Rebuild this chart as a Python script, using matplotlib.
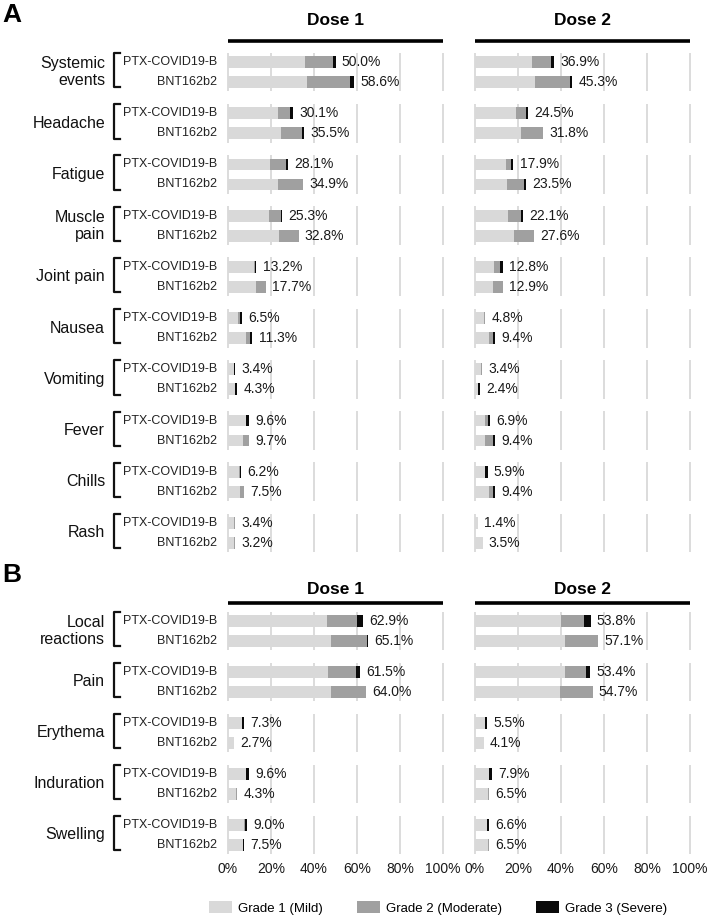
import numpy as np
import matplotlib
matplotlib.use("Agg")
import matplotlib.pyplot as plt
from matplotlib.patches import Patch
from matplotlib.lines import Line2D
import matplotlib.transforms as mtransforms

plt.rcParams['font.family'] = ['Liberation Sans', 'DejaVu Sans']

# ---- data (percent of participants) ----
sys_cats = ["Systemic\nevents", "Headache", "Fatigue", "Muscle\npain", "Joint pain",
            "Nausea", "Vomiting", "Fever", "Chills", "Rash"]
loc_cats = ["Local\nreactions", "Pain", "Erythema", "Induration", "Swelling"]
vaccines = ["PTX-COVID19-B", "BNT162b2"]
grades = ["Grade 1 (Mild)", "Grade 2 (Moderate)", "Grade 3 (Severe)"]

# systemic events, dose 1
sys_d1_ptx_mild = [35.7, 23.4, 19.7, 19.1, 12.2, 4.7, 2.6, 8.6, 5.1, 3.0]
sys_d1_ptx_mod = [13.0, 5.6, 7.3, 5.4, 0.3, 0.8, 0.0, 0.0, 0.5, 0.4]
sys_d1_ptx_sev = [1.3, 1.1, 1.1, 0.8, 0.7, 1.0, 0.8, 1.0, 0.6, 0.0]
sys_d1_ptx_tot = [50.0, 30.1, 28.1, 25.3, 13.2, 6.5, 3.4, 9.6, 6.2, 3.4]
sys_d1_bnt_mild = [36.9, 24.7, 23.1, 23.7, 13.0, 8.5, 3.3, 7.0, 5.4, 2.8]
sys_d1_bnt_mod = [19.9, 9.7, 11.8, 9.1, 4.7, 1.9, 0.0, 2.7, 2.1, 0.4]
sys_d1_bnt_sev = [1.8, 1.1, 0.0, 0.0, 0.0, 0.9, 1.0, 0.0, 0.0, 0.0]
sys_d1_bnt_tot = [58.6, 35.5, 34.9, 32.8, 17.7, 11.3, 4.3, 9.7, 7.5, 3.2]

# systemic events, dose 2
sys_d2_ptx_mild = [26.4, 19.1, 14.4, 15.3, 9.0, 4.3, 2.8, 4.7, 4.7, 1.4]
sys_d2_ptx_mod = [8.9, 4.6, 2.2, 5.9, 2.6, 0.5, 0.6, 1.3, 0.0, 0.0]
sys_d2_ptx_sev = [1.6, 0.8, 1.3, 0.9, 1.2, 0.0, 0.0, 0.9, 1.2, 0.0]
sys_d2_ptx_tot = [36.9, 24.5, 17.9, 22.1, 12.8, 4.8, 3.4, 6.9, 5.9, 1.4]
sys_d2_bnt_mild = [27.8, 21.2, 14.7, 18.1, 8.5, 6.4, 1.4, 4.7, 6.4, 3.5]
sys_d2_bnt_mod = [16.3, 10.6, 8.0, 9.5, 4.4, 2.1, 0.0, 3.8, 2.1, 0.0]
sys_d2_bnt_sev = [1.2, 0.0, 0.8, 0.0, 0.0, 0.9, 1.0, 0.9, 0.9, 0.0]
sys_d2_bnt_tot = [45.3, 31.8, 23.5, 27.6, 12.9, 9.4, 2.4, 9.4, 9.4, 3.5]

# local reactions, dose 1
loc_d1_ptx_mild = [46.0, 46.5, 6.4, 8.6, 7.6]
loc_d1_ptx_mod = [14.0, 13.2, 0.0, 0.0, 0.4]
loc_d1_ptx_sev = [2.9, 1.8, 0.9, 1.0, 1.0]
loc_d1_ptx_tot = [62.9, 61.5, 7.3, 9.6, 9.0]
loc_d1_bnt_mild = [47.9, 47.9, 2.7, 3.8, 6.8]
loc_d1_bnt_mod = [16.6, 16.1, 0.0, 0.5, 0.0]
loc_d1_bnt_sev = [0.6, 0.0, 0.0, 0.0, 0.7]
loc_d1_bnt_tot = [65.1, 64.0, 2.7, 4.3, 7.5]

# local reactions, dose 2
loc_d2_ptx_mild = [39.8, 41.7, 4.6, 6.7, 5.6]
loc_d2_ptx_mod = [10.9, 9.8, 0.0, 0.0, 0.0]
loc_d2_ptx_sev = [3.1, 1.9, 0.9, 1.2, 1.0]
loc_d2_ptx_tot = [53.8, 53.4, 5.5, 7.9, 6.6]
loc_d2_bnt_mild = [41.9, 39.5, 4.1, 6.1, 6.1]
loc_d2_bnt_mod = [15.2, 15.2, 0.0, 0.4, 0.4]
loc_d2_bnt_sev = [0.0, 0.0, 0.0, 0.0, 0.0]
loc_d2_bnt_tot = [57.1, 54.7, 4.1, 6.5, 6.5]

colors = ["#d9d9d9", "#a0a0a0", "#0a0a0a"]
grid_c = "#d9d9d9"
W, H = 711, 924

fig = plt.figure(figsize=(W / 100, H / 100), dpi=100)


def px_axes(x0, y0, x1, y1):
    # axes from pixel box (top-left origin)
    return fig.add_axes([x0 / W, 1 - y1 / H, (x1 - x0) / W, (y1 - y0) / H])


def draw_dose(ax, ptx, bnt, cats, show_ticks, first):
    n = len(cats)
    off = 0.195
    for vals, sgn in ((ptx, -1), (bnt, 1)):
        mild, mod, sev, tot = [np.array(v) for v in vals]
        y = np.arange(n) + sgn * off
        ax.barh(y, mild, height=0.23, color=colors[0], zorder=2)
        ax.barh(y, mod, left=mild, height=0.23, color=colors[1], zorder=2)
        ax.barh(y, sev, left=mild + mod, height=0.23, color=colors[2], zorder=2)
        for yy, end, t in zip(y, mild + mod + sev, tot):
            ax.annotate(f"{t:.1f}%", xy=(end, yy), xytext=(4.5, 0),
                        textcoords="offset points", va="center", ha="left",
                        fontsize=10, color="#1a1a1a")
    for i in range(n):
        ax.vlines(np.arange(0, 101, 20), i - 0.38, i + 0.38, color=grid_c,
                  lw=1.3, zorder=0, clip_on=False)
    ax.set_xlim(0, 100)
    ax.set_ylim(n - 0.5, -0.5)
    for s in ax.spines.values():
        s.set_visible(False)
    ax.set_yticks([])
    if show_ticks:
        ax.set_xticks(np.arange(0, 101, 20))
        ax.set_xticklabels([f"{v}%" for v in range(0, 101, 20)], fontsize=10,
                           color="#1a1a1a")
        ax.tick_params(axis="x", length=0, pad=1)
    else:
        ax.set_xticks([])
    if first:
        tr = mtransforms.blended_transform_factory(ax.transAxes, ax.transData)
        for i, c in enumerate(cats):
            ax.text(-0.572, i, c, transform=tr, ha="right", va="center",
                    fontsize=11.5, color="#111111", linespacing=1.15)
            ax.text(-0.05, i - off, vaccines[0], transform=tr, ha="right",
                    va="center", fontsize=9, color="#222222")
            ax.text(-0.05, i + off, vaccines[1], transform=tr, ha="right",
                    va="center", fontsize=9, color="#222222")
            ax.add_line(Line2D([-0.502, -0.53, -0.53, -0.502],
                               [i - 0.37, i - 0.37, i + 0.30, i + 0.30],
                               transform=tr, color="#111111", lw=1.6,
                               clip_on=False))


def header(ax, text):
    ax.add_line(Line2D([0, 1], [1.01, 1.01], transform=ax.transAxes,
                       color="black", lw=2.6, clip_on=False,
                       solid_capstyle="butt"))
    ax.text(0.5, 1.035, text, transform=ax.transAxes, ha="center",
            va="bottom", fontsize=12.5, fontweight="bold")


# panel A
axA1 = px_axes(228, 46.4, 443, 558.6)
axA2 = px_axes(475, 46.4, 690, 558.6)
draw_dose(axA1, (sys_d1_ptx_mild, sys_d1_ptx_mod, sys_d1_ptx_sev, sys_d1_ptx_tot),
          (sys_d1_bnt_mild, sys_d1_bnt_mod, sys_d1_bnt_sev, sys_d1_bnt_tot),
          sys_cats, False, True)
draw_dose(axA2, (sys_d2_ptx_mild, sys_d2_ptx_mod, sys_d2_ptx_sev, sys_d2_ptx_tot),
          (sys_d2_bnt_mild, sys_d2_bnt_mod, sys_d2_bnt_sev, sys_d2_bnt_tot),
          sys_cats, False, False)
header(axA1, "Dose 1")
header(axA2, "Dose 2")

# panel B
axB1 = px_axes(228, 605.5, 443, 860.5)
axB2 = px_axes(475, 605.5, 690, 860.5)
draw_dose(axB1, (loc_d1_ptx_mild, loc_d1_ptx_mod, loc_d1_ptx_sev, loc_d1_ptx_tot),
          (loc_d1_bnt_mild, loc_d1_bnt_mod, loc_d1_bnt_sev, loc_d1_bnt_tot),
          loc_cats, True, True)
draw_dose(axB2, (loc_d2_ptx_mild, loc_d2_ptx_mod, loc_d2_ptx_sev, loc_d2_ptx_tot),
          (loc_d2_bnt_mild, loc_d2_bnt_mod, loc_d2_bnt_sev, loc_d2_bnt_tot),
          loc_cats, True, False)
header(axB1, "Dose 1")
header(axB2, "Dose 2")

# panel letters
fig.text(2 / W, 1 - 15 / H, "A", fontsize=19, fontweight="bold", va="center")
fig.text(2 / W, 1 - 575 / H, "B", fontsize=19, fontweight="bold", va="center")

# legend
handles = [Patch(facecolor=c, edgecolor="none") for c in colors]
fig.legend(handles, grades, loc="center", bbox_to_anchor=(438 / W, 1 - 908 / H),
           ncol=3, frameon=False, fontsize=9.5, handlelength=1.75,
           handleheight=1.0, handletextpad=0.45, columnspacing=2.6)

fig.savefig("out.png", dpi=100)
